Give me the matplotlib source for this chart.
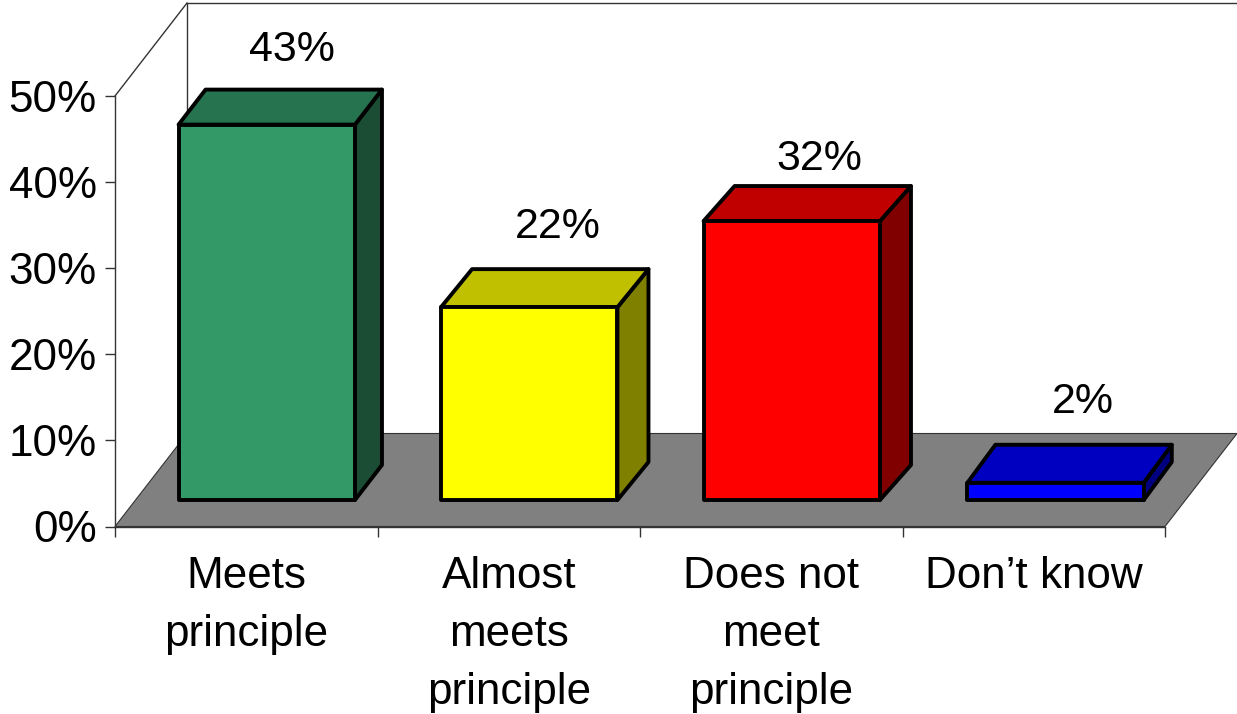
import matplotlib
matplotlib.use("Agg")
import matplotlib.pyplot as plt

categories = ["Meets\nprinciple", "Almost\nmeets\nprinciple", "Does not\nmeet\nprinciple", "Don\u2019t know"]
bar_heights = [43.6, 22.4, 32.4, 2.0]  # heights
bar_labels = ["43%", "22%", "32%", "2%"]
y_ticks = [0, 10, 20, 30, 40, 50]
y_tick_labels = ["0%", "10%", "20%", "30%", "40%", "50%"]

front_colors = ["#339966", "#FFFF00", "#FF0000", "#0000FF"]
top_colors = ["#267350", "#C0C000", "#C00000", "#0000C0"]
side_colors = ["#1A4D33", "#808000", "#800000", "#000080"]

# pixel layout of the front plane of the box
W, H = 1237, 714
LEFT, RIGHT, BOTTOM, TOP = 115, 1165, 526.5, 96
PX_X = (RIGHT - LEFT) / 4
PX_Y = (BOTTOM - TOP) / 50

# how far the back of the box is shifted, in data units
DEPTH_X = 72 / PX_X
DEPTH_Y = 93 / PX_Y
BAR_WIDTH = 0.672
BAR_FRONT = 0.285  # position of bar front inside the depth (0 front, 1 back)

# the bars are not quite the same depth in the picture (pixels)
bar_depth_x = [27, 31, 31, 28]
bar_depth_y = [35, 38, 35, 38]
bar_shift = [0.0, 0.0, 0.0, 0.005]

# baseline of each label above the back edge of the bar, in points
label_gaps = [20.5, 22.5, 11.5, 23]
label_nudge = [-1, -1.5, -2.5, -0.5]

LINE_GREY = "#333333"


def project(x, y, d):
    """Move a point of the front plane back by the depth fraction d."""
    return x + d * DEPTH_X, y + d * DEPTH_Y


def quad(ax, points, color, edge, lw, zorder):
    xs = [p[0] for p in points]
    ys = [p[1] for p in points]
    ax.fill(xs, ys, facecolor=color, edgecolor=edge, linewidth=lw,
            clip_on=False, zorder=zorder, joinstyle="round")


plt.rcParams["font.family"] = ["Liberation Sans", "DejaVu Sans"]

fig = plt.figure(figsize=(W / 100, H / 100), dpi=100)
ax = fig.add_axes([LEFT / W, 1 - BOTTOM / H, (RIGHT - LEFT) / W, (BOTTOM - TOP) / H])
ax.set_xlim(0, 4)
ax.set_ylim(0, 50)
ax.patch.set_visible(False)

for side in ["top", "right"]:
    ax.spines[side].set_visible(False)
for side in ["left", "bottom"]:
    ax.spines[side].set_color(LINE_GREY)
    ax.spines[side].set_linewidth(1.0)

ax.set_yticks(y_ticks)
ax.set_yticklabels(y_tick_labels, fontsize=31.7, color="black")
ax.tick_params(axis="y", length=7.5, width=1.0, color=LINE_GREY, pad=5.5)

ax.set_xticks(range(5))
ax.set_xticklabels([])
ax.tick_params(axis="x", which="major", length=7.5, width=1.0, color=LINE_GREY)
ax.set_xticks([i + 0.5 for i in range(4)], minor=True)
ax.set_xticklabels(categories, minor=True, fontsize=31.7, color="black", linespacing=1.53)
ax.tick_params(axis="x", which="minor", length=0, pad=21)

# floor
quad(ax, [project(0, 0, 0), project(4, 0, 0), project(4, 0, 1), project(0, 0, 1)],
     "#808080", LINE_GREY, 0.8, 1)

# back wall lines
back_x0, back_y0 = project(0, 0, 1)
back_x1, back_y1 = project(0, 50, 1)
ax.plot([back_x0, back_x1, 4 + DEPTH_X], [back_y0, back_y1, back_y1],
        color=LINE_GREY, lw=1.0, clip_on=False, zorder=1)
ax.plot([0, back_x1], [50, back_y1], color=LINE_GREY, lw=1.0, clip_on=False, zorder=1)

# bars, drawn as three faces
for i in range(4):
    h = bar_heights[i]
    x0 = i + 0.5 + bar_shift[i] - BAR_WIDTH / 2
    x1 = i + 0.5 + bar_shift[i] + BAR_WIDTH / 2
    dx = bar_depth_x[i] / PX_X
    dy = bar_depth_y[i] / PX_Y
    z = 3 + i

    fx0, fy0 = project(x0, 0, BAR_FRONT)
    fx1, fy1 = project(x1, h, BAR_FRONT)

    quad(ax, [(fx1, fy0), (fx1 + dx, fy0 + dy), (fx1 + dx, fy1 + dy), (fx1, fy1)],
         side_colors[i], "black", 2.8, z)
    quad(ax, [(fx0, fy1), (fx1, fy1), (fx1 + dx, fy1 + dy), (fx0 + dx, fy1 + dy)],
         top_colors[i], "black", 2.8, z)
    quad(ax, [(fx0, fy0), (fx1, fy0), (fx1, fy1), (fx0, fy1)],
         front_colors[i], "black", 2.8, z)

    ax.annotate(bar_labels[i], xy=((fx0 + fx1) / 2 + dx, fy1 + dy),
                xytext=(label_nudge[i], label_gaps[i]), textcoords="offset points",
                ha="center", va="baseline", fontsize=31, color="black",
                annotation_clip=False, zorder=10)

fig.savefig("out.png", dpi=100)
